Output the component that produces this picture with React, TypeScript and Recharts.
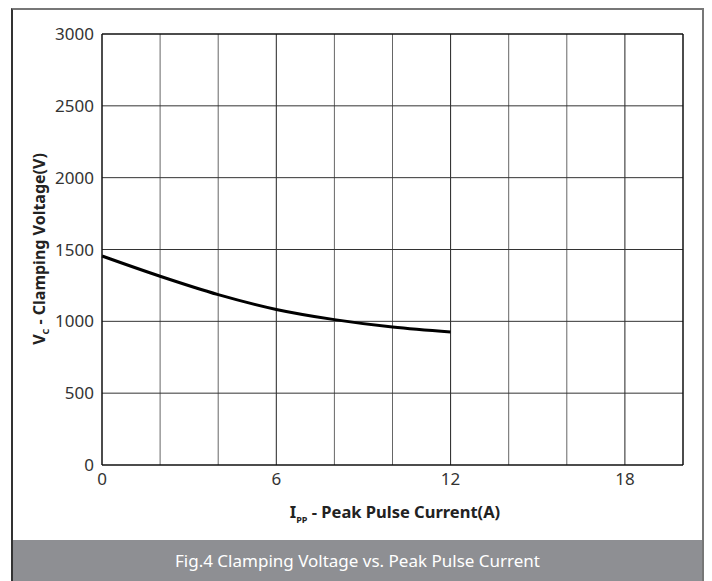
import React from "react";
import { LineChart, Line, XAxis, YAxis, ReferenceLine } from "recharts";

const CURRENT_A = [0, 2, 4, 6, 8, 10, 12];
const CLAMP_V = [1455, 1314, 1186, 1083, 1012, 960, 925];
const X_TICKS = [0, 6, 12, 18];
const Y_TICKS = [0, 500, 1000, 1500, 2000, 2500, 3000];
const X_GRID = [2, 4, 6, 8, 10, 12, 14, 16, 18];
const X_GRID_MAJOR = [6, 12, 18];
const Y_GRID = [500, 1000, 1500, 2000, 2500];

const data = CURRENT_A.map((x, i) => ({ x, v: CLAMP_V[i] }));

const FONT = "'Noto Sans', 'Open Sans', sans-serif";

export default function App() {
  return (
    <div
      style={{
        position: "absolute",
        left: 0,
        top: 0,
        width: 712,
        height: 581,
        background: "#fff",
        fontFamily: FONT,
        overflow: "hidden",
      }}
    >
      {/* outer frame */}
      <div
        style={{
          position: "absolute",
          left: 11,
          top: 8,
          width: 693,
          height: 573,
          borderLeft: "2px solid #333",
          borderTop: "2px solid #777",
          borderRight: "2px solid #777",
          boxSizing: "border-box",
        }}
      />
      <LineChart
        width={712}
        height={581}
        data={data}
        margin={{ top: 34, right: 29, bottom: 86, left: 42 }}
        style={{ position: "absolute", left: 0, top: 0 }}
      >
        {X_GRID.map((g) => (
          <ReferenceLine
            key={`vx-${g}`}
            x={g}
            stroke={X_GRID_MAJOR.includes(g) ? "#222" : "#666"}
            strokeWidth={1}
          />
        ))}
        {Y_GRID.map((g) => (
          <ReferenceLine key={`hy-${g}`} y={g} stroke="#333" strokeWidth={1} />
        ))}
        <ReferenceLine y={3000} stroke="#111" strokeWidth={1.5} />
        <ReferenceLine x={20} stroke="#111" strokeWidth={1.5} />
        <XAxis
          type="number"
          dataKey="x"
          domain={[0, 20]}
          ticks={X_TICKS}
          height={30}
          tickLine={false}
          axisLine={{ stroke: "#111", strokeWidth: 1.5 }}
          tick={{ fill: "#333", fontSize: 17, fontFamily: FONT }}
          interval={0}
        />
        <YAxis
          type="number"
          domain={[0, 3000]}
          ticks={Y_TICKS}
          width={60}
          tickLine={false}
          axisLine={{ stroke: "#111", strokeWidth: 1.5 }}
          tick={{ fill: "#333", fontSize: 17, fontFamily: FONT }}
          interval={0}
        />
        <Line
          type="monotone"
          dataKey="v"
          stroke="#000"
          strokeWidth={3}
          dot={false}
          isAnimationActive={false}
        />
      </LineChart>
      {/* y-axis title */}
      <div
        style={{
          position: "absolute",
          left: 40,
          top: 249,
          transform: "translate(-50%, -50%) rotate(-90deg)",
          whiteSpace: "nowrap",
          fontWeight: 700,
          fontSize: 16,
          color: "#222",
        }}
      >
        V<sub style={{ fontSize: 9 }}>C</sub> - Clamping Voltage(V)
      </div>
      {/* x-axis title */}
      <div
        style={{
          position: "absolute",
          left: 395,
          top: 513,
          transform: "translate(-50%, -50%)",
          whiteSpace: "nowrap",
          fontWeight: 700,
          fontSize: 16.5,
          color: "#222",
        }}
      >
        I<sub style={{ fontSize: 9 }}>PP</sub> - Peak Pulse Current(A)
      </div>
      {/* caption bar */}
      <div
        style={{
          position: "absolute",
          left: 13,
          top: 540,
          width: 689,
          height: 41,
          background: "#8e8f93",
          color: "#fff",
          fontSize: 17,
          display: "flex",
          alignItems: "center",
          justifyContent: "center",
          whiteSpace: "nowrap",
        }}
      >
        Fig.4 Clamping Voltage vs. Peak Pulse Current
      </div>
    </div>
  );
}
